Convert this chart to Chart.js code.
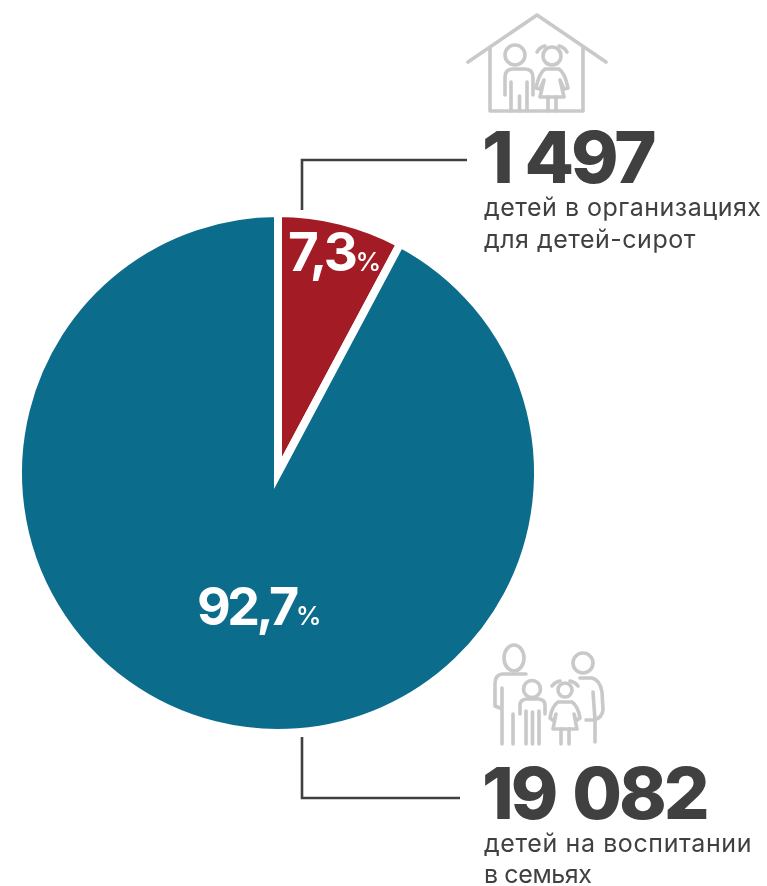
<!DOCTYPE html>
<html lang="ru">
<head>
<meta charset="utf-8">
<title>Дети-сироты</title>
<script src="https://cdn.jsdelivr.net/npm/chart.js@4"></script>
<style>
  html, body { margin: 0; padding: 0; background: #fff; }
  #wrap { position: relative; width: 767px; height: 886px; overflow: hidden; font-family: Inter, "Noto Sans", sans-serif; color: #404040; }
  #pie { position: absolute; left: 0; top: 0; }
  #overlay { position: absolute; left: 0; top: 0; }
  .t { position: absolute; white-space: nowrap; line-height: 1; }
  .big { font-size: 72px; font-weight: 800; letter-spacing: -3px; word-spacing: 4px; }
  .sub { font-size: 25px; font-weight: 400; letter-spacing: 0.5px; }
  .pct { color: #fff; font-weight: 700; font-size: 53px; letter-spacing: -2.5px; }
  .pct span { font-size: 26px; font-weight: 500; letter-spacing: 0; }
  .icon { fill: none; stroke: #c9c9c9; stroke-width: 3.6; stroke-linecap: round; stroke-linejoin: round; }
  .leader { fill: none; stroke: #404040; stroke-width: 2.6; }
</style>
</head>
<body>
<div id="wrap">
  <canvas id="pie" width="767" height="886"></canvas>
  <svg id="overlay" width="767" height="886" viewBox="0 0 767 886">
    <!-- leader lines -->
    <path class="leader" d="M302 210V160H467"/>
    <path class="leader" d="M302 737V798H460"/>
    <!-- house with two children -->
    <g class="icon">
      <path d="M468 62L537 15L606 62"/>
      <path d="M490 48V111H583V47"/>
      <circle cx="515" cy="55" r="10"/>
      <path d="M505 95V78Q505 69 513 69H525Q533 69 533 78V95"/>
      <path d="M511 82V111M527 82V111M519.500 96V111"/>
      <circle cx="552" cy="56" r="9"/>
      <path d="M537 52Q540 47 545 46M559 46Q564 47 567 52"/>
      <path d="M545 69H559Q565 73 568 88L564 89L560 80L564 97H540L544 80L540 89L536 88Q539 73 545 69Z"/>
      <path d="M548 97V111M556 97V111"/>
    </g>
    <!-- family -->
    <g class="icon">
      <ellipse cx="514" cy="658" rx="10" ry="13"/>
      <path d="M526 674H502Q495 675 495 684V706L500 708"/>
      <path d="M502 688V744M513 714V744"/>
      <circle cx="532" cy="689" r="8.500"/>
      <path d="M520 714V705Q520 700 526 699H539Q545 700 545 705V714"/>
      <path d="M526 711V744M539 711V744M532.500 712V744"/>
      <circle cx="565" cy="690" r="7"/>
      <path d="M552 686Q555 682 560 681M570 681Q575 682 578 686"/>
      <path d="M558 702H572Q578 706 580 718L576 721L574 714L577 729H553L556 714L554 721L550 718Q552 706 558 702Z"/>
      <path d="M561 729V744M569 729V744"/>
      <circle cx="583" cy="663" r="10"/>
      <path d="M580 678H592Q600 680 602 692L603 710Q602 718 594 720H586"/>
      <path d="M593 692L595 720V742"/>
    </g>
  </svg>
  <div class="t big" style="left:482px;top:121px;word-spacing:1px">1 497</div>
  <div class="t sub" style="left:484px;top:195px">детей в организациях</div>
  <div class="t sub" style="left:484px;top:227px">для детей-сирот</div>
  <div class="t big" style="left:482px;top:757px">19 082</div>
  <div class="t sub" style="left:484px;top:831px;letter-spacing:0.6px">детей на воспитании</div>
  <div class="t sub" style="left:484px;top:862px;letter-spacing:-0.4px">в семьях</div>
  <div class="t pct" style="left:288px;top:226px">7,3<span>%</span></div>
  <div class="t pct" style="left:197px;top:581px;font-size:52px;letter-spacing:-3.5px">92,7<span>%</span></div>
</div>
<script>
const categories = ['детей в организациях для детей-сирот', 'детей на воспитании в семьях'];
// Wedge sizes: the red wedge spans about 28 degrees,
// a little wider than the printed 7,3 % (1 497 of 20 579) would give.
const drawnShares = [7.8, 92.2];
const sliceColors = ['#a31c25', '#0c6c8c'];

const outerSize = 264;

new Chart(document.getElementById('pie'), {
    type: 'pie',
    data: {
        labels: categories,
        datasets: [{
            data: drawnShares,
            backgroundColor: sliceColors,
            borderColor: '#ffffff',
            borderWidth: 8,
            borderJoinStyle: 'miter'
        }]
    },
    options: {
        responsive: false,
        animation: false,
        layout: {
            padding: {
                left: 278 - outerSize,
                right: 767 - 278 - outerSize,
                top: 473 - outerSize,
                bottom: 886 - 473 - outerSize
            }
        },
        plugins: {
            legend: { display: false },
            tooltip: { enabled: false }
        }
    }
});
</script>
</body>
</html>
